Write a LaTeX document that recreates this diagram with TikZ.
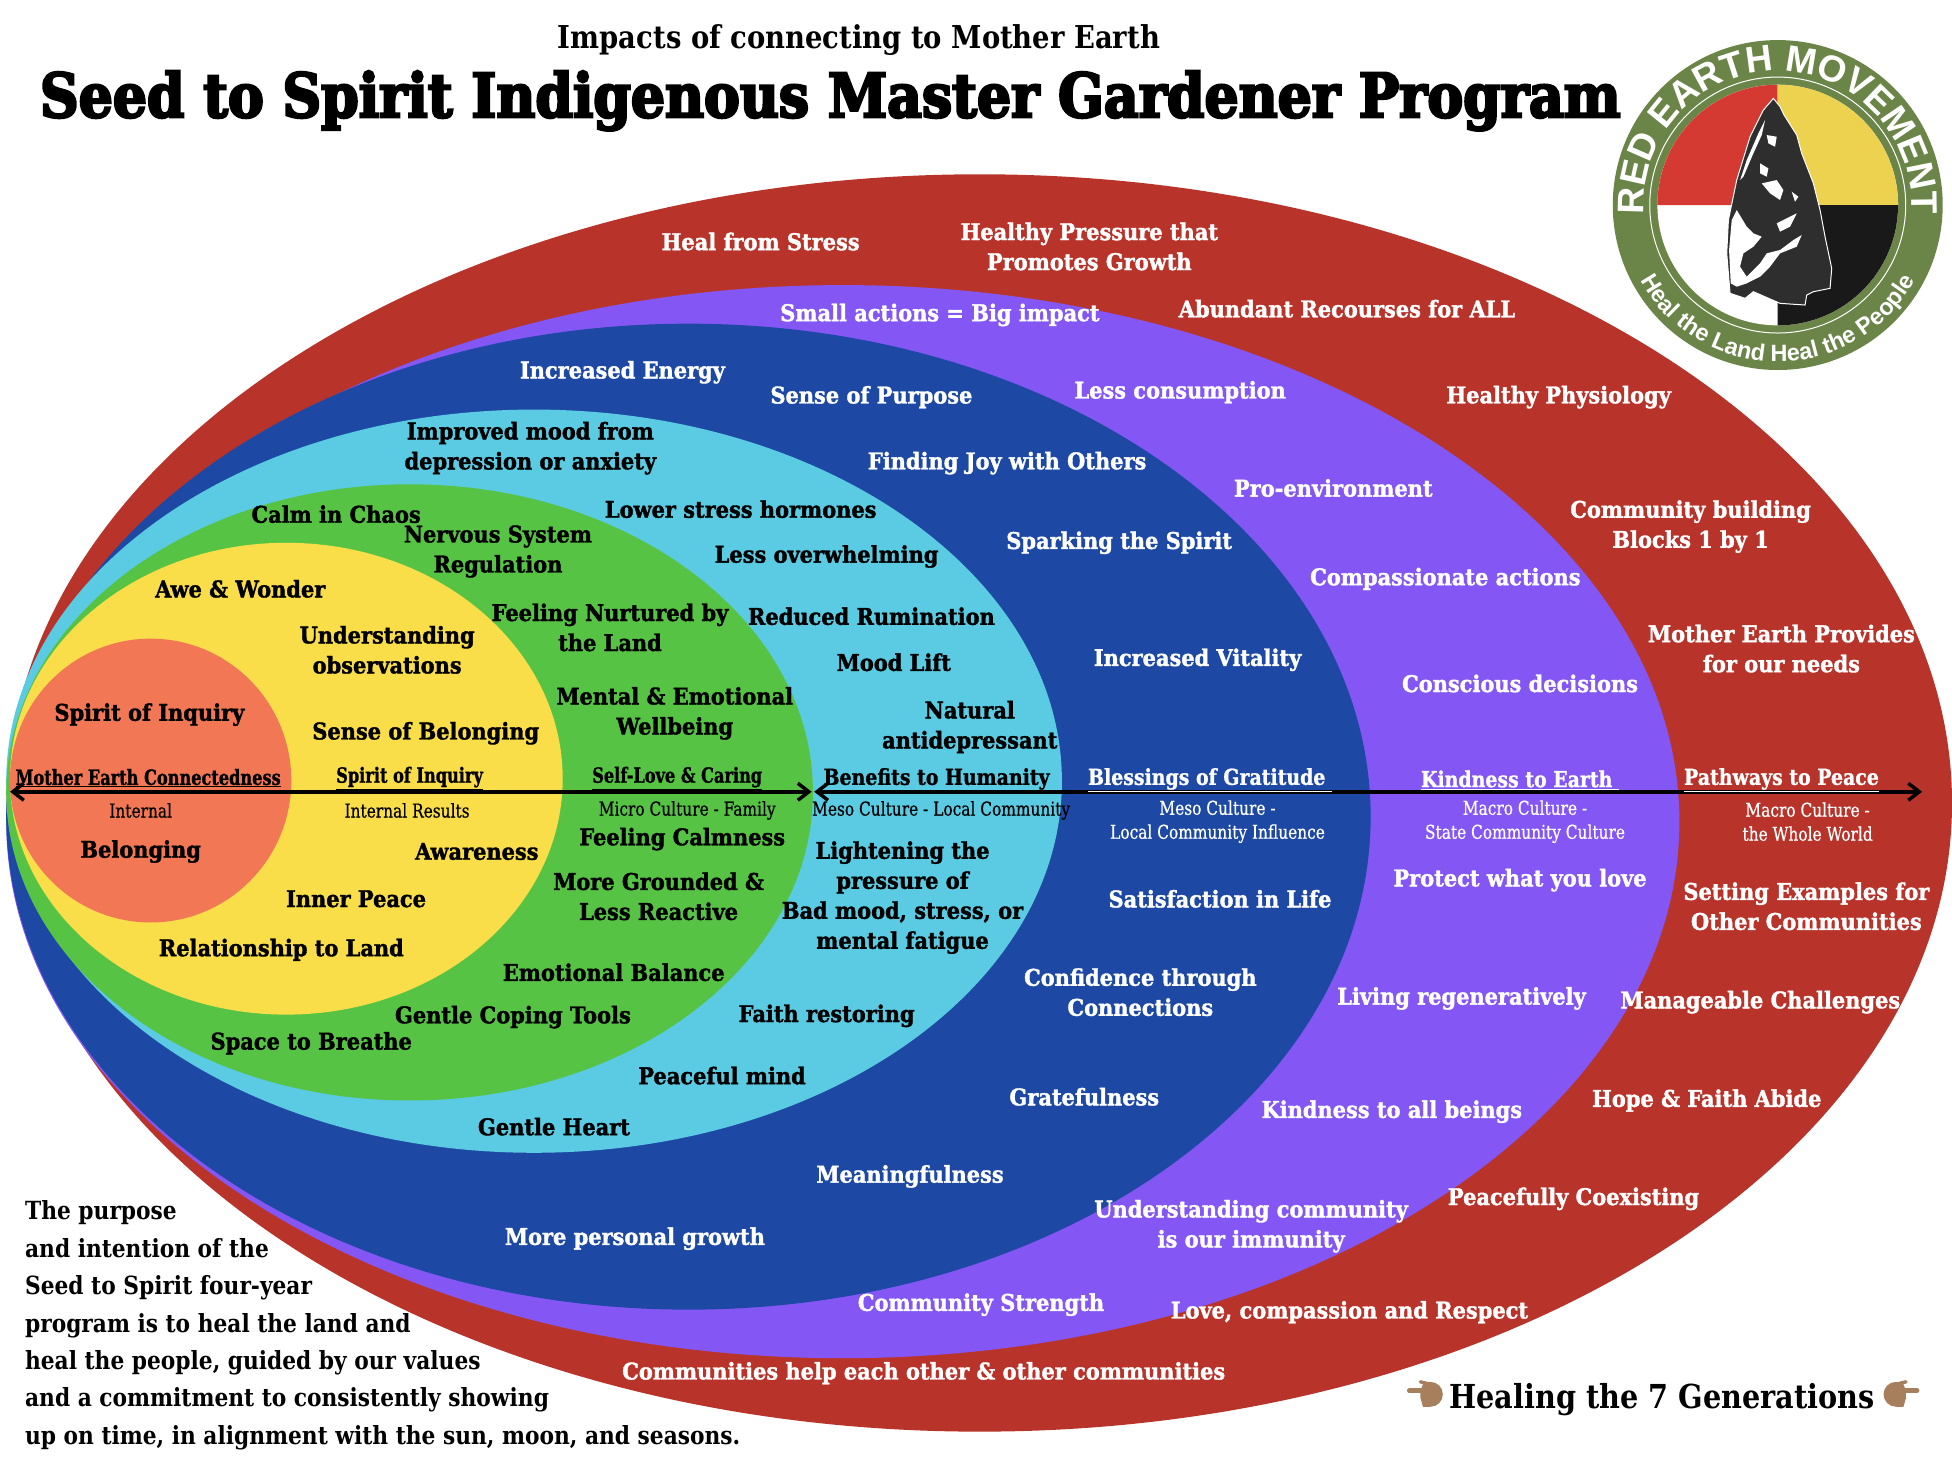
\documentclass[tikz,border=0pt]{standalone}
\usepackage{fontspec}
\usetikzlibrary{arrows.meta,decorations.text}
\newfontfamily\labfont[FakeStretch=.91,BoldFeatures={FakeBold=1.5}]{DejaVu Serif}
\newfontfamily\headfont[FakeStretch=.77,BoldFeatures={FakeBold=1}]{DejaVu Serif}
\newfontfamily\outerfont[FakeStretch=.86,BoldFeatures={FakeBold=1}]{DejaVu Serif}
\newfontfamily\subfont[FakeStretch=.81,FakeBold=.5]{DejaVu Serif}
\newfontfamily\blackfont[FakeStretch=.88,BoldFeatures={FakeBold=4}]{DejaVu Serif}
\newfontfamily\bodyfont[FakeStretch=.87]{DejaVu Serif}
\newfontfamily\logofont{Liberation Sans}
\definecolor{redring}{HTML}{B8342B}
\definecolor{purplering}{HTML}{8457F5}
\definecolor{bluering}{HTML}{1D49A5}
\definecolor{cyanring}{HTML}{5ACBE2}
\definecolor{greenring}{HTML}{57C345}
\definecolor{yellowring}{HTML}{F9DE4A}
\definecolor{orangering}{HTML}{F27755}
\definecolor{logogreen}{HTML}{6A8547}
\definecolor{logored}{HTML}{D43A32}
\definecolor{logoyellow}{HTML}{ECD24F}
\definecolor{handtan}{HTML}{A87F5C}
\begin{document}
\begin{tikzpicture}[x=1.245pt, y=-1.245pt, >={Straight Barb[length=11pt,width=17pt]},
	kl/.style={font=\labfont\bfseries\fontsize{23}{30}\selectfont, align=center, inner sep=0pt},
	wl/.style={kl, text=white},
	kh/.style={font=\headfont\bfseries\fontsize{21}{24}\selectfont, align=center, inner sep=0pt},
	kb/.style={font=\outerfont\bfseries\fontsize{22}{24}\selectfont, align=center, inner sep=0pt},
	wh/.style={kb, text=white},
	ks/.style={font=\subfont\fontsize{19}{24}\selectfont, align=center, inner sep=0pt},
	ws/.style={ks, text=white}]
	\useasboundingbox (0,0) rectangle (1568,1191.25);
	\foreach \cx/\cy/\rx/\ry/\col in {787/645/781/505/redring, 677/660/672/431/purplering, 553/656/548/396/bluering, 429/627.5/424/298.5/cyanring, 329/636.5/324/247.5/greenring, 230/625.5/222/189.5/yellowring, 121/627/113/114/orangering}
		\fill[\col] (\cx,\cy) ellipse [x radius=\rx, y radius=\ry];
	% heading
	\node[font=\bodyfont\bfseries\fontsize{31.5}{36}\selectfont, inner sep=0pt] (sub) at (690,32) {Impacts of connecting to Mother Earth};
	\node[font=\blackfont\bfseries\fontsize{61}{70}\selectfont, inner sep=0pt] (title) at (667,81) {Seed to Spirit Indigenous Master Gardener Program};
	% logo
	\begin{scope}[shift={(1428,164.7)}, x=.3333pt, y=.3333pt]
		\fill[logogreen] (0,0) circle (495);
		\draw[white, line width=1pt] (0,0) circle (384);
		\fill[white] (0,0) circle (361);
		\fill[logored] (0,0) -- (-361,0) arc[start angle=180, end angle=90, radius=361] -- cycle;
		\fill[logoyellow] (0,0) -- (0,361) arc[start angle=90, end angle=0, radius=361] -- cycle;
		\fill[black!90] (0,0) -- (361,0) arc[start angle=0, end angle=-90, radius=361] -- cycle;
		\fill[black!82, draw=white, line width=1pt] (-13,320) -- (7,295) -- (19,270) -- (57,210) -- (72,155) -- (107,65) -- (127,-15) -- (142,-95) -- (162,-190) -- (157,-250) -- (107,-260) -- (87,-270) -- (82,-300) -- (7,-295) -- (-73,-260) -- (-98,-280) -- (-143,-265) -- (-153,-145) -- (-148,-45) -- (-123,75) -- (-83,205) -- (-43,285) -- cycle;
		\fill[white] (-146,-135) -- (-138,-45) -- (-123,-15) -- (-93,-65) -- (-73,-85) -- (-48,-95) -- (-73,-125) -- (-103,-145) -- (-113,-185) -- (-93,-215) -- (-53,-175) -- (-33,-145) -- (7,-135) -- (47,-105) -- (72,-90) -- (57,-125) -- (7,-145) -- (-23,-185) -- (-53,-215) -- (-93,-235) -- (-123,-245) -- (-141,-235) -- cycle;
		\fill[white] (-38,255) -- (-58,215) -- (-93,135) -- (-113,75) -- (-103,85) -- (-73,155) -- (-48,210) -- cycle;
		\fill[white] (-48,65) -- (-3,75) -- (17,45) -- (7,15) -- (-23,35) -- cycle;
		\fill[white] (-33,210) -- (-3,205) -- (-8,175) -- (-28,185) -- cycle;
		\fill[white] (-53,125) -- (-28,110) -- (-33,85) -- (-53,95) -- cycle;
		\fill[white] (-3,-55) -- (57,-25) -- (37,-65) -- (7,-80) -- cycle;
		\fill[white] (42,40) -- (62,25) -- (52,10) -- cycle;
		\path[decorate, decoration={text along path, text align=center, text={|\logofont\bfseries\fontsize{37}{37}\selectfont\color{white}|RED EARTH MOVEMENT}}] (190:402) arc[start angle=190, end angle=-10, radius=402];
		\path[decorate, decoration={text along path, text align=center, text={|\logofont\bfseries\fontsize{23.5}{25}\selectfont\color{white}|Heal the Land Heal the People}}] (207:470) arc[start angle=207, end angle=333, radius=470];
	\end{scope}
	% axis
	\coordinate (axisl) at (8,636); \coordinate (axism) at (652,636);
	\coordinate (axisn) at (654,636); \coordinate (axisr) at (1544,636);
	\draw[<->, line width=3.5pt] (axisl) -- (axism);
	\draw[<->, line width=3.5pt] (axisn) -- (axisr);
	% red ring
	\node[wl] (stress) at (611,194) {Heal from Stress};
	\node[wl] (pressure) at (875,198) {Healthy Pressure that\\Promotes Growth};
	\node[wl] (abundant) at (1082,248) {Abundant Recourses for ALL};
	\node[wl] (physio) at (1252,319) {Healthy Physiology};
	\node[wl] (building) at (1358,423) {Community building\\Blocks 1 by 1};
	\node[wl] (provides) at (1431,521) {Mother Earth Provides\\for our needs};
	\node[wh] (peace) at (1431,626.5) {\underline{Pathways to Peace}};
	\node[ws] (world) at (1452,660) {Macro Culture -\\the Whole World};
	\node[wl] (examples) at (1451,728) {Setting Examples for\\Other Communities};
	\node[wl] (manage) at (1414,805) {Manageable Challenges};
	\node[wl] (hope) at (1371,884) {Hope \& Faith Abide};
	\node[wl] (coexist) at (1264,963) {Peacefully Coexisting};
	\node[wl] (respect) at (1084,1054) {Love, compassion and Respect};
	\node[wl] (help) at (742,1103) {Communities help each other \& other communities};
	% purple ring
	\node[wl] (small) at (755,253) {Small actions = Big impact};
	\node[wl] (consume) at (948,315) {Less consumption};
	\node[wl] (proenv) at (1071,392) {Pro-environment};
	\node[wl] (compass) at (1161,465) {Compassionate actions};
	\node[wl] (conscious) at (1221,549) {Conscious decisions};
	\node[wh] (kind) at (1221,626.5) {\underline{Kindness to Earth\ }};
	\node[ws] (state) at (1225,660) {Macro Culture -\\State Community Culture};
	\node[wl] (protect) at (1221,707) {Protect what you love};
	\node[wl] (regen) at (1174,802) {Living regeneratively};
	\node[wl] (beings) at (1118,893) {Kindness to all beings};
	\node[wl] (immunity) at (1005,985) {Understanding community\\is our immunity};
	\node[wl] (strength) at (788,1048) {Community Strength};
	% blue ring
	\node[wl] (energy) at (500,299) {Increased Energy};
	\node[wl] (purpose) at (700,319) {Sense of Purpose};
	\node[wl] (joy) at (809,372) {Finding Joy with Others};
	\node[wl] (spark) at (899,436) {Sparking the Spirit};
	\node[wl] (vital) at (962,530) {Increased Vitality};
	\node[wh] (bless) at (972,626.5) {\underline{Blessings of Gratitude\ }};
	\node[ws] (influence) at (978,660) {Meso Culture -\\Local Community Influence};
	\node[wl] (satisfy) at (980,722) {Satisfaction in Life};
	\node[wl] (confid) at (916,797) {Confidence through\\Connections};
	\node[wl] (grate) at (871,881) {Gratefulness};
	\node[wl] (meaning) at (731,945) {Meaningfulness};
	\node[wl] (growth) at (510,995) {More personal growth};
	% cyan ring
	\node[kl] (mood) at (426,360) {Improved mood from\\depression or anxiety};
	\node[kl] (hormone) at (595,409) {Lower stress hormones};
	\node[kl] (overw) at (664,447) {Less overwhelming};
	\node[kl] (rumin) at (700,495) {Reduced Rumination};
	\node[kl] (lift) at (718,532) {Mood Lift};
	\node[kl] (natural) at (779,584) {Natural\\antidepressant};
	\node[kb] (benefit) at (755,626.5) {\underline{Benefits to Humanity\ }};
	\node[ks] (local) at (756,651) {Meso Culture - Local Community};
	\node[kl] (lighten) at (725,721) {Lightening the\\pressure of\\Bad mood, stress, or\\mental fatigue};
	\node[kl] (faith) at (664,816) {Faith restoring};
	\node[kl] (mind) at (580,864) {Peaceful mind};
	\node[kl] (heart) at (445,905) {Gentle Heart};
	% green ring
	\node[kl] (calm) at (270,413) {Calm in Chaos};
	\node[kl] (nerve) at (400,443) {Nervous System\\Regulation};
	\node[kl] (nurture) at (490,504) {Feeling Nurtured by\\the Land};
	\node[kl] (mental) at (542,573) {Mental \& Emotional\\Wellbeing};
	\node[kh] (selflove) at (544,625) {\underline{Self-Love \& Caring}};
	\node[ks] (family) at (552,651) {Micro Culture - Family};
	\node[kl] (calmness) at (548,674) {Feeling Calmness};
	\node[kl] (ground) at (529,720) {More Grounded \&\\Less Reactive};
	\node[kl] (balance) at (493,781) {Emotional Balance};
	\node[kl] (coping) at (412,817) {Gentle Coping Tools};
	\node[kl] (breathe) at (250,838) {Space to Breathe};
	% yellow ring
	\node[kl] (awe) at (193,473) {Awe \& Wonder};
	\node[kl] (observe) at (311,522) {Understanding\\observations};
	\node[kl] (sense) at (342,589) {Sense of Belonging};
	\node[kh] (inquiry) at (329,625) {\underline{Spirit of Inquiry}};
	\node[ks] (results) at (327,651) {Internal Results};
	\node[kl] (aware) at (383,684) {Awareness};
	\node[kl] (inner) at (286,722) {Inner Peace};
	\node[kl] (land) at (226,763) {Relationship to Land};
	% orange centre
	\node[kl] (spirit) at (120,574) {Spirit of Inquiry};
	\node[kh] (connect) at (119,625) {\underline{Mother Earth Connectedness}};
	\node[ks] (internal) at (113,651) {Internal};
	\node[kl] (belong) at (113,684) {Belonging};
	% corner texts
	\node[font=\bodyfont\bfseries\fontsize{25}{37.4}\selectfont, anchor=north west, align=left, inner sep=0pt] (intent) at (20,964.5) {The purpose\\and intention of the\\Seed to Spirit four-year\\program is to heal the land and\\heal the people, guided by our values\\and a commitment to consistently showing\\up on time, in alignment with the sun, moon, and seasons.};
	\node[font=\bodyfont\bfseries\fontsize{33}{36}\selectfont, inner sep=0pt] (heal7) at (1335,1124) {Healing the 7 Generations};
	\foreach \hx/\dir in {1149/1, 1523/-1} {
		\begin{scope}[shift={(\hx,1120)}, xscale=\dir, y=1.245pt]
			\fill[handtan] (0,10) arc[start angle=90, end angle=-90, radius=10] -- (-6,-10) -- (-8,-3) -- (-8,3) -- (-6,8) -- cycle;
			\draw[handtan, line width=4.5pt, line cap=round] (-17,3) -- (-4,3);
			\draw[handtan, line width=3.5pt, line cap=round] (-8,10) -- (0,8);
		\end{scope}
	}
\end{tikzpicture}
\end{document}
